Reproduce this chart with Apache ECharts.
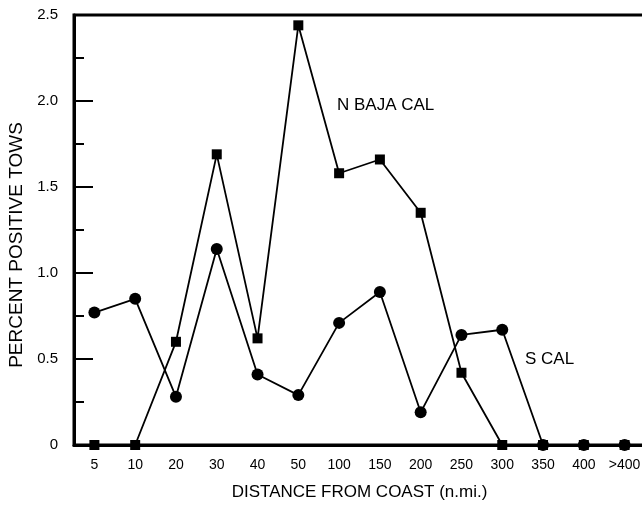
<!DOCTYPE html>
<html><head><meta charset="utf-8">
<script src="https://cdn.jsdelivr.net/npm/echarts@6/dist/echarts.min.js"></script>
<style>html,body{margin:0;padding:0;background:#fff}#c{width:642px;height:506px}</style>
</head><body><div id="c"></div>
<script>
var categories = ['5','10','20','30','40','50','100','150','200','250','300','350','400','>400'];
var nBajaCal = [0, 0, 0.60, 1.69, 0.62, 2.44, 1.58, 1.66, 1.35, 0.42, 0, 0, 0, 0];
var sCal = [0.77, 0.85, 0.28, 1.14, 0.41, 0.29, 0.71, 0.89, 0.19, 0.64, 0.67, 0, 0, 0];
var yTicks = [0, 0.5, 1.0, 1.5, 2.0, 2.5];

var font = 'Liberation Sans, Arial, Helvetica, sans-serif';
var chart = echarts.init(document.getElementById('c'), null, {renderer: 'canvas'});
chart.setOption({
  animation: false,
  backgroundColor: '#fff',
  grid: {left: 74, top: 15, width: 571, height: 430, show: true, borderColor: '#000', borderWidth: 3,
    containLabel: false, outerBoundsMode: 'none'},
  xAxis: {
    type: 'category', data: categories, boundaryGap: true,
    axisLine: {lineStyle: {color: '#000', width: 3}},
    axisTick: {inside: true, alignWithLabel: true, interval: 0, length: 6, lineStyle: {color: '#000', width: 1.5}},
    axisLabel: {color: '#000', fontFamily: font, fontSize: 14, margin: 13, interval: 0},
    name: 'DISTANCE FROM COAST (n.mi.)', nameLocation: 'middle', nameGap: 39,
    nameTextStyle: {color: '#000', fontFamily: font, fontSize: 17},
    splitLine: {show: false}
  },
  yAxis: {
    type: 'value', min: yTicks[0], max: yTicks[yTicks.length - 1], interval: 0.5,
    axisLine: {show: true, lineStyle: {color: '#000', width: 3}},
    axisTick: {show: true, inside: true, length: 19, lineStyle: {color: '#000', width: 2}},
    minorTick: {show: true, splitNumber: 2, length: 10, lineStyle: {color: '#000', width: 2}},
    axisLabel: {color: '#000', fontFamily: font, fontSize: 15, margin: 16,
      formatter: function (v) { return v === 0 ? '0' : v.toFixed(1); }},
    splitLine: {show: false},
    name: 'PERCENT POSITIVE TOWS', nameLocation: 'middle', nameGap: 48, nameRotate: 90,
    nameTextStyle: {color: '#000', fontFamily: font, fontSize: 19, padding: [0, 30, 0, 0]}
  },
  series: [
    {name: 'N BAJA CAL', type: 'line', data: nBajaCal, symbol: 'rect', symbolSize: 10,
      lineStyle: {color: '#000', width: 1.8}, itemStyle: {color: '#000'}, z: 3},
    {name: 'S CAL', type: 'line', data: sCal, symbol: 'circle', symbolSize: 12,
      lineStyle: {color: '#000', width: 1.8}, itemStyle: {color: '#000'}, z: 4}
  ],
  graphic: [
    {type: 'text', left: 337, top: 97, style: {text: 'N BAJA CAL', fill: '#000', font: '17px ' + font}},
    {type: 'text', left: 525, top: 351, style: {text: 'S CAL', fill: '#000', font: '17px ' + font}}
  ]
});
</script></body></html>
